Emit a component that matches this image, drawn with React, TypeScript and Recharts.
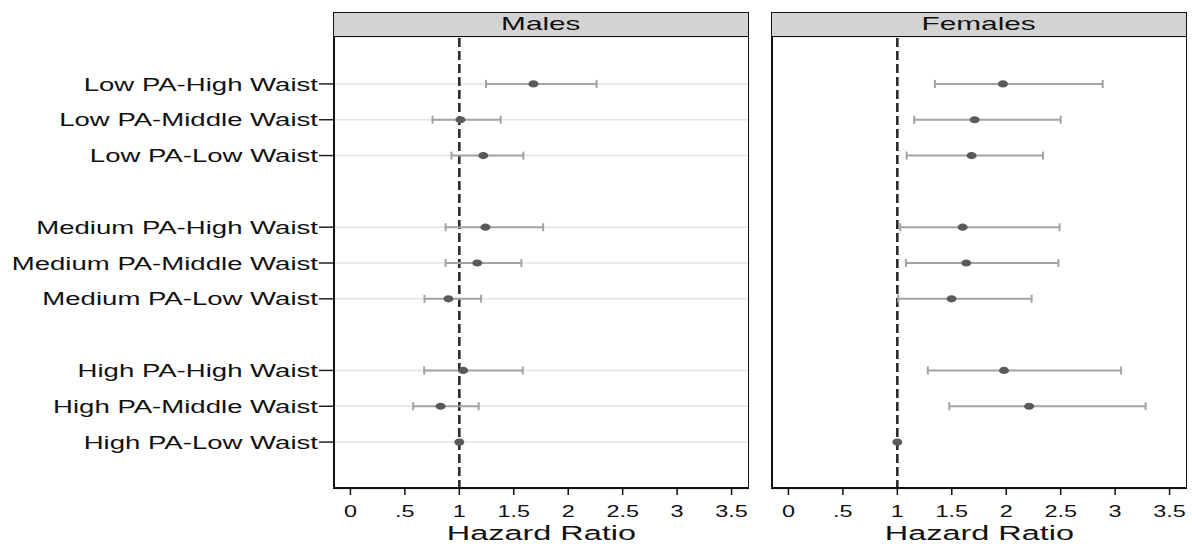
import React from "react";
import {
  ScatterChart,
  Scatter,
  XAxis,
  YAxis,
  CartesianGrid,
  ReferenceLine,
  ErrorBar,
} from "recharts";

const categories = [
  "Low PA-High Waist",
  "Low PA-Middle Waist",
  "Low PA-Low Waist",
  "Medium PA-High Waist",
  "Medium PA-Middle Waist",
  "Medium PA-Low Waist",
  "High PA-High Waist",
  "High PA-Middle Waist",
  "High PA-Low Waist",
];

const maleHR = [1.68, 1.01, 1.22, 1.24, 1.165, 0.9, 1.036, 0.828, 1];
const maleLo = [1.245, 0.754, 0.928, 0.874, 0.874, 0.68, 0.677, 0.576, null];
const maleHi = [2.26, 1.38, 1.588, 1.77, 1.57, 1.2, 1.582, 1.178, null];

const femaleHR = [1.97, 1.71, 1.682, 1.6, 1.633, 1.498, 1.98, 2.21, 1];
const femaleLo = [1.345, 1.155, 1.085, 1.027, 1.079, 1.008, 1.28, 1.477, null];
const femaleHi = [2.886, 2.5, 2.338, 2.49, 2.479, 2.233, 3.055, 3.28, null];

const xTicks = [0, 0.5, 1, 1.5, 2, 2.5, 3, 3.5];
const xTickLabels = ["0", ".5", "1", "1.5", "2", "2.5", "3", "3.5"];

// rows grouped by three, with an empty slot between groups
const rowPos = categories.map((_, i) => i + Math.floor(i / 3) + 1);

const FONT = "'Liberation Sans', Arial, Helvetica, sans-serif";
const X_DOMAIN: [number, number] = [-0.16, 3.66];
const Y_DOMAIN: [number, number] = [-0.31, 12.31];

function buildRows(hr: number[], lo: (number | null)[], hi: (number | null)[]) {
  return categories.map((c, i) => ({
    label: c,
    pos: rowPos[i],
    hr: hr[i],
    ci: lo[i] == null || hi[i] == null ? null : [hr[i] - (lo[i] as number), (hi[i] as number) - hr[i]],
  }));
}

const maleRows = buildRows(maleHR, maleLo, maleHi);
const femaleRows = buildRows(femaleHR, femaleLo, femaleHi);

const Dot = (props: any) => (
  <ellipse cx={props.cx} cy={props.cy} rx={5} ry={3.6} fill="#5a5a5a" />
);

const XTick = (props: any) => {
  const { x, y, payload } = props;
  const idx = xTicks.indexOf(payload.value);
  return (
    <g transform={`translate(${x},${y})`}>
      <text
        textAnchor="middle"
        dy="0.71em"
        fontSize={16.5}
        fontFamily={FONT}
        fill="#111"
        transform="scale(1.42,1)"
      >
        {idx >= 0 ? xTickLabels[idx] : payload.value}
      </text>
    </g>
  );
};

const YTick = (props: any) => {
  const { x, y, payload } = props;
  const idx = rowPos.indexOf(payload.value);
  return (
    <g transform={`translate(${x},${y})`}>
      <text
        textAnchor="end"
        dy="0.36em"
        fontSize={18.5}
        fontFamily={FONT}
        fill="#111"
        transform="scale(1.49,1)"
      >
        {idx >= 0 ? categories[idx] : ""}
      </text>
    </g>
  );
};

interface PanelProps {
  title: string;
  rows: any[];
  left: number;
  width: number;
  yAxisWidth: number;
  marginLeft: number;
  marginRight: number;
  showLabels: boolean;
}

const Panel: React.FC<PanelProps> = ({
  title,
  rows,
  left,
  width,
  yAxisWidth,
  marginLeft,
  marginRight,
  showLabels,
}) => {
  const plotLeft = left + marginLeft + yAxisWidth;
  const plotWidth = width - marginLeft - marginRight - yAxisWidth;
  return (
    <>
      <div style={{ position: "absolute", left, top: 0 }}>
        <ScatterChart
          width={width}
          height={544}
          margin={{ top: 37, right: marginRight, bottom: 0, left: marginLeft }}
        >
          <CartesianGrid
            vertical={false}
            stroke="#e4e4e4"
            strokeWidth={1.5}
          />
          <XAxis
            type="number"
            dataKey="hr"
            domain={X_DOMAIN}
            ticks={xTicks}
            allowDataOverflow
            axisLine={false}
            tickLine={{ stroke: "#111", strokeWidth: 1.5 }}
            tickSize={6}
            tickMargin={10}
            height={55}
            tick={<XTick />}
            interval={0}
          />
          <YAxis
            type="number"
            dataKey="pos"
            domain={Y_DOMAIN}
            ticks={rowPos}
            reversed
            allowDataOverflow
            width={yAxisWidth}
            axisLine={false}
            tickLine={showLabels ? { stroke: "#222", strokeWidth: 1.5 } : false}
            tickSize={showLabels ? 14 : 0}
            tickMargin={1}
            tick={showLabels ? <YTick /> : false}
            interval={0}
          />
          <ReferenceLine
            x={1}
            stroke="#2b2b2b"
            strokeWidth={2.6}
            strokeDasharray="9 4"
          />
          <Scatter data={rows} shape={<Dot />} isAnimationActive={false}>
            <ErrorBar
              dataKey="ci"
              direction="x"
              width={4}
              stroke="#a3a3a3"
              strokeWidth={2}
              isAnimationActive={false}
            />
          </Scatter>
        </ScatterChart>
      </div>
      <div
        style={{
          position: "absolute",
          left: plotLeft,
          top: 12,
          width: plotWidth,
          height: 25,
          boxSizing: "border-box",
          background: "#d3d3d3",
          border: "1.5px solid #111",
          display: "flex",
          alignItems: "center",
          justifyContent: "center",
          fontFamily: FONT,
          fontSize: 18.6,
          color: "#111",
        }}
      >
        <span style={{ display: "inline-block", transform: "scaleX(1.6)", marginTop: -2 }}>
          {title}
        </span>
      </div>
      <div
        style={{
          position: "absolute",
          left: plotLeft,
          top: 37,
          width: plotWidth,
          height: 452,
          boxSizing: "border-box",
          borderLeft: "2px solid #111",
          borderRight: "1.5px solid #111",
          borderBottom: "2px solid #111",
          pointerEvents: "none",
        }}
      />
      <div
        style={{
          position: "absolute",
          left: plotLeft,
          top: 522,
          width: plotWidth,
          textAlign: "center",
          fontFamily: FONT,
          fontSize: 20,
          lineHeight: "22px",
          color: "#111",
        }}
      >
        <span style={{ display: "inline-block", transform: "scaleX(1.62)" }}>
          Hazard Ratio
        </span>
      </div>
    </>
  );
};

export default function App() {
  return (
    <div
      style={{
        position: "absolute",
        left: 0,
        top: 0,
        width: 1192,
        height: 544,
        background: "#fff",
        overflow: "hidden",
      }}
    >
      <Panel
        title="Males"
        rows={maleRows}
        left={0}
        width={760}
        yAxisWidth={333}
        marginLeft={0}
        marginRight={11}
        showLabels
      />
      <Panel
        title="Females"
        rows={femaleRows}
        left={760}
        width={432}
        yAxisWidth={0}
        marginLeft={11}
        marginRight={5}
        showLabels={false}
      />
    </div>
  );
}
